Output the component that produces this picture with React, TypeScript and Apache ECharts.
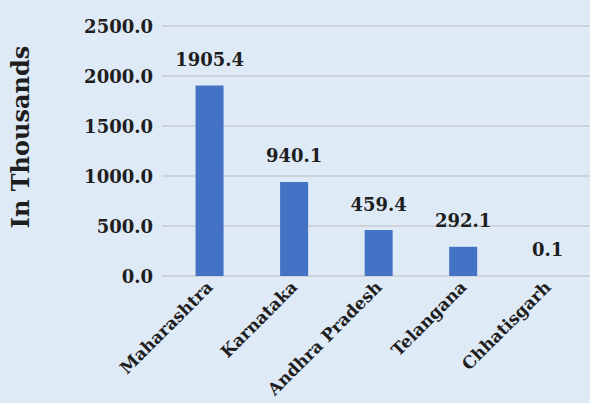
import React, { useEffect, useRef } from "react";
import * as echarts from "echarts";

const categories = ["Maharashtra", "Karnataka", "Andhra Pradesh", "Telangana", "Chhatisgarh"];
const values = [1905.4, 940.1, 459.4, 292.1, 0.1];
const yTicks = [0, 500, 1000, 1500, 2000, 2500];
const yTitle = "In Thousands";

const FONT = "DejaVu Serif";
const TEXT = "#1e1e1e";

export default function App() {
  const ref = useRef<HTMLDivElement>(null);
  useEffect(() => {
    if (!ref.current) return;
    const chart = echarts.init(ref.current, null, { renderer: "svg" });
    const yMin = yTicks[0];
    const yMax = yTicks[yTicks.length - 1];
    const interval = yTicks[1] - yTicks[0];
    chart.setOption({
      animation: false,
      backgroundColor: "#dfeaf7",
      grid: [
        { left: 152, right: 0, top: 26, height: 250 },
        { left: 167.3, width: 426.5, top: 26, height: 250 },
      ],
      xAxis: [
        { type: "value", gridIndex: 0, show: false, min: 0, max: 1 },
        {
          type: "category",
          gridIndex: 1,
          data: categories,
          axisLine: { show: false },
          axisTick: { show: false },
          axisLabel: {
            rotate: 45,
            margin: 8,
            interval: 0,
            color: TEXT,
            fontFamily: FONT,
            fontWeight: "bold",
            fontSize: 17,
          },
        },
      ],
      yAxis: [
        {
          type: "value",
          gridIndex: 0,
          min: yMin,
          max: yMax,
          interval,
          axisLine: { show: false },
          axisTick: { show: false },
          splitLine: { show: true, lineStyle: { color: "#cfd3d7", width: 2 } },
          axisLabel: {
            margin: 9,
            color: TEXT,
            fontFamily: FONT,
            fontWeight: "bold",
            fontSize: 18,
            formatter: (v: number) => v.toFixed(1),
          },
          name: yTitle,
          nameLocation: "middle",
          nameRotate: 90,
          nameGap: 130,
          nameTextStyle: {
            color: TEXT,
            fontFamily: FONT,
            fontWeight: "bold",
            fontSize: 24,
            padding: [0, 0, 0, 28],
          },
        },
        {
          type: "value",
          gridIndex: 1,
          min: yMin,
          max: yMax,
          interval,
          show: false,
          splitLine: { show: false },
        },
      ],
      series: [
        {
          type: "bar",
          xAxisIndex: 1,
          yAxisIndex: 1,
          data: values,
          barWidth: 28,
          itemStyle: { color: "#4472c4" },
          label: {
            show: true,
            position: "top",
            distance: 17,
            color: TEXT,
            fontFamily: FONT,
            fontWeight: "bold",
            fontSize: 18,
            formatter: (p: any) => Number(p.value).toFixed(1),
          },
        },
      ],
    });
    return () => chart.dispose();
  }, []);
  return (
    <div
      ref={ref}
      style={{ position: "fixed", left: 0, top: 0, width: 590, height: 403 }}
    />
  );
}
